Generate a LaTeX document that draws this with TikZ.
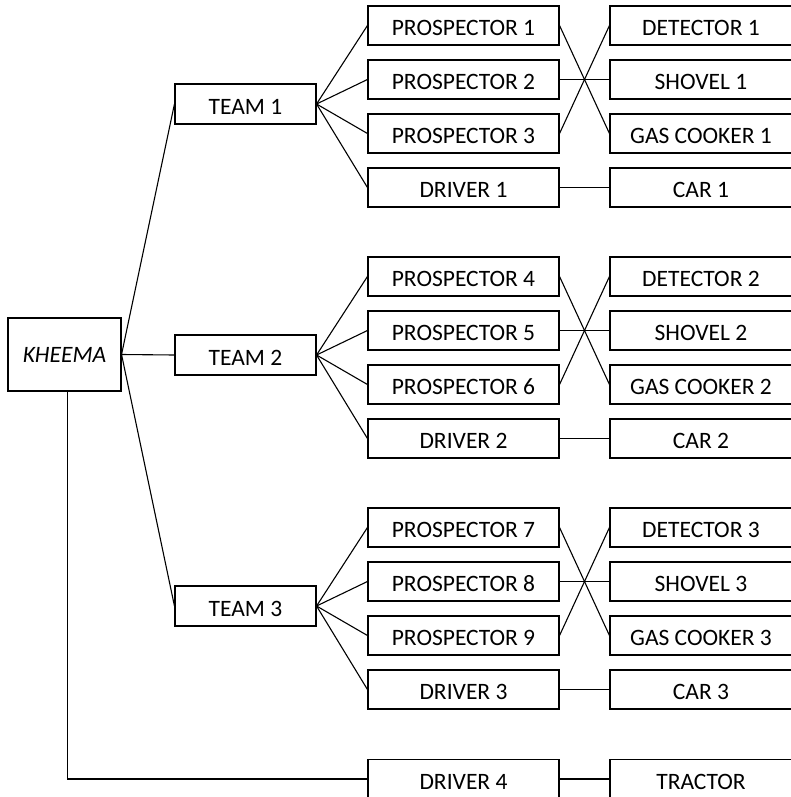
\documentclass[tikz,border=0pt]{standalone}
\usepackage{fontspec}
\setmainfont{Carlito}
\begin{document}
\begin{tikzpicture}[
    % styles
    x=1pt, y=-1pt,
    line width=1.1pt,
    box/.style={draw, rectangle, inner sep=0pt, minimum height=39pt,
        text height=20pt, text depth=0pt, font=\fontsize{23.5}{26}\selectfont},
    root box/.style={box, minimum width=113pt, minimum height=73pt,
        text height=16pt, font=\fontsize{23.5}{26}\selectfont\itshape},
    team box/.style={box, minimum width=141pt, minimum height=40pt},
    member box/.style={box, minimum width=191pt},
    kit box/.style={box, minimum width=182pt}
]
    \useasboundingbox (0,0) rectangle (791,797);
    \clip (0,0) rectangle (791,797);

    % --- 1. root ---
    \node[root box] (K) at (64.5,354.5) {KHEEMA};

    % --- 2. teams, members and their kit ---
    \foreach \t in {1,2,3} {
        \pgfmathsetmacro{\dy}{251*(\t-1)}
        \node[team box] (T-\t) at (245.5,{104+\dy}) {TEAM \t};
        \draw (K.east) -- (T-\t.west);

        \foreach \k in {1,2,3} {
            \pgfmathtruncatemacro{\p}{3*(\t-1)+\k}
            \pgfmathsetmacro{\py}{25.5+54*(\k-1)+\dy}
            \node[member box] (P-\p) at (463.5,\py) {PROSPECTOR \p};
            \draw (T-\t.east) -- (P-\p.west);
        }
        \node[member box] (D-\t) at (463.5,{187.5+\dy}) {DRIVER \t};
        \draw (T-\t.east) -- (D-\t.west);

        \node[kit box] (DET-\t) at (701,{25.5+\dy}) {DETECTOR \t};
        \node[kit box] (SH-\t) at (701,{79.5+\dy}) {SHOVEL \t};
        \node[kit box] (GC-\t) at (701,{133.5+\dy}) {GAS COOKER \t};
        \node[kit box] (CAR-\t) at (701,{187.5+\dy}) {CAR \t};
    }

    % --- 3. who carries what (crossed) ---
    \foreach \t in {1,2,3} {
        \pgfmathtruncatemacro{\pa}{3*\t-2}
        \pgfmathtruncatemacro{\pb}{3*\t-1}
        \pgfmathtruncatemacro{\pc}{3*\t}
        \draw (P-\pa.east) -- (GC-\t.west);
        \draw (P-\pb.east) -- (SH-\t.west);
        \draw (P-\pc.east) -- (DET-\t.west);
        \draw (D-\t.east) -- (CAR-\t.west);
    }

    % --- 4. tractor driver ---
    \node[member box] (D-4) at (463.5,779) {DRIVER 4};
    \node[kit box] (TR) at (701,779) {TRACTOR};
    \draw ([xshift=3pt]K.south) |- (D-4.west);
    \draw (D-4.east) -- (TR.west);

\end{tikzpicture}
\end{document}
